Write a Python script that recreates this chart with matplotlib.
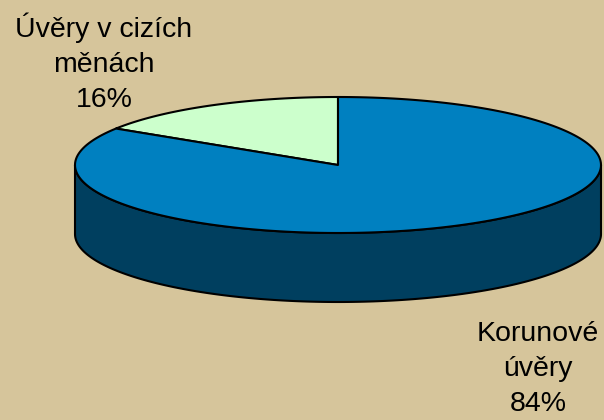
import numpy as np
import matplotlib.pyplot as plt
from matplotlib.patches import Polygon

# data
labels = ['Úvěry v cizích\nměnách', 'Korunové\núvěry']
shares = [16, 84]
top_colors = ['#CCFFCC', '#0080C0']
side_colors = ['#8FB38F', '#003F5F']

bg = '#D6C59B'
cx, cy = 338, 165
rx, ry = 263, 68
depth = 69


def edge(a0, a1, dy=0, n=200):
    t = np.radians(np.linspace(a0, a1, n))
    return np.column_stack([cx + rx * np.cos(t), cy + dy - ry * np.sin(t)])


fig = plt.figure(figsize=(6.04, 4.20), dpi=100)
fig.patch.set_facecolor(bg)
ax = fig.add_axes([0, 0, 1, 1])
ax.set_xlim(0, 604)
ax.set_ylim(420, 0)
ax.axis('off')

# slice angles, counterclockwise from 12 o'clock
fracs = np.array(shares) / sum(shares)
starts = 90 + 360 * np.concatenate([[0], np.cumsum(fracs)[:-1]])
ends = starts + 360 * fracs

# side wall: only the front half (180..360 deg) is visible
for s, e, sc in zip(starts, ends, side_colors):
    for off in (0, 360):
        a0, a1 = max(s, 180 + off), min(e, 360 + off)
        if a1 <= a0:
            continue
        top = edge(a0, a1)
        bot = edge(a1, a0, dy=depth)
        ax.add_patch(Polygon(np.vstack([top, bot]), closed=True, fc=sc,
                             ec='black', lw=1.5, zorder=2))

# top face
for s, e, tc in zip(starts, ends, top_colors):
    pts = np.vstack([[cx, cy], edge(s, e)])
    ax.add_patch(Polygon(pts, closed=True, fc=tc, ec='black', lw=1.5,
                         joinstyle='round', zorder=3))

font = dict(family=['Liberation Sans', 'DejaVu Sans'], fontsize=20.5,
            color='black', ha='center', va='center', linespacing=1.45)
ax.text(104, 63, f'{labels[0]}\n{shares[0]}%', **font)
ax.text(538, 369, f'{labels[1]}\n{shares[1]}%', **font)

fig.savefig('out.png', dpi=100, facecolor=bg)
